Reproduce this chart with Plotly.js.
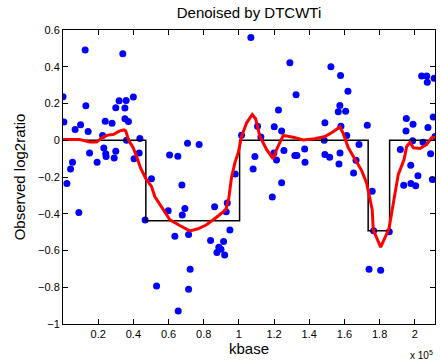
<!DOCTYPE html>
<html>
<head>
<meta charset="utf-8">
<script src="https://cdn.plot.ly/plotly-3.0.1.min.js"></script>
<style>html,body{margin:0;padding:0;background:#fff;}#chart{width:441px;height:364px;}</style>
</head>
<body>
<div id="chart"></div>
<script>
// Observed data (kbase, in units of 1e5 on the axis)
const obsX = [0.000,0.005,0.022,0.043,0.054,0.069,0.090,0.100,0.126,0.130,0.143,0.151,0.194,0.225,0.232,0.240,0.243,0.245,0.279,0.291,0.300,0.300,0.319,0.340,0.352,0.352,0.359,0.361,0.372,0.400,0.404,0.433,0.437,0.467,0.503,0.532,0.598,0.606,0.636,0.653,0.655,0.676,0.678,0.693,0.708,0.714,0.714,0.723,0.774,0.839,0.862,0.875,0.886,0.898,0.913,0.919,0.928,0.934,0.949,0.979,1.015,1.068,1.081,1.091,1.106,1.125,1.190,1.199,1.201,1.214,1.225,1.243,1.243,1.256,1.290,1.318,1.330,1.325,1.374,1.376,1.485,1.489,1.489,1.516,1.523,1.565,1.569,1.574,1.575,1.578,1.580,1.607,1.613,1.620,1.652,1.666,1.683,1.730,1.758,1.740,1.766,1.806,1.855,1.918,1.937,1.950,1.952,1.977,1.978,1.988,1.990,2.005,2.018,2.039,2.047,2.068,2.071,2.075,2.090,2.100,2.105,2.110,2.115];
const obsY = [0.237,0.100,-0.236,-0.156,-0.120,0.058,-0.393,0.084,0.491,0.188,0.047,-0.069,-0.120,0.026,-0.042,0.104,-0.074,-0.089,0.093,-0.096,-0.060,0.177,0.215,0.471,0.175,0.117,0.217,0.000,0.102,0.235,-0.100,-0.069,0.009,-0.434,-0.209,-0.793,-0.384,-0.080,-0.522,-0.087,-0.929,-0.243,-0.407,-0.371,-0.016,-0.513,-0.811,-0.702,-0.023,-0.546,-0.362,-0.611,-0.582,-0.593,-0.551,-0.625,-0.389,-0.342,-0.489,-0.183,0.027,0.559,-0.156,-0.089,0.076,0.018,-0.309,-0.069,0.073,-0.107,0.164,0.051,-0.231,-0.056,0.422,-0.083,-0.083,0.248,-0.047,-0.120,0.000,0.095,-0.078,-0.093,0.400,0.155,-0.129,0.189,-0.069,0.353,0.076,0.158,0.026,0.266,-0.178,-0.109,-0.023,0.082,-0.278,-0.702,-0.493,-0.707,-0.498,-0.051,-0.245,0.051,0.118,-0.136,-0.235,-0.003,0.087,-0.247,-0.193,0.349,-0.011,0.349,0.316,0.069,-0.074,-0.214,0.126,0.337,0.020];

// True segment levels (step function)
const stepX = [0.000,0.471,1.004,1.735,1.857,2.115];
const stepY = [0.000,-0.438,0.000,-0.493,0.000,0.000];

// Denoised estimate (DTCWTi)
const denX = [0.000,0.096,0.152,0.191,0.228,0.255,0.285,0.323,0.346,0.357,0.374,0.399,0.418,0.441,0.471,0.503,0.522,0.560,0.608,0.664,0.721,0.768,0.816,0.873,0.909,0.926,0.943,0.958,0.977,0.996,1.015,1.044,1.076,1.095,1.119,1.158,1.195,1.214,1.252,1.309,1.366,1.432,1.489,1.536,1.575,1.593,1.622,1.660,1.698,1.726,1.745,1.758,1.764,1.806,1.853,1.878,1.906,1.939,1.954,1.973,1.992,2.030,2.068,2.095,2.111,2.121];
const denY = [0.004,0.004,-0.010,-0.010,0.017,0.028,0.031,0.051,0.056,0.050,-0.002,-0.041,-0.087,-0.151,-0.209,-0.251,-0.306,-0.360,-0.433,-0.464,-0.493,-0.482,-0.460,-0.419,-0.394,-0.378,-0.313,-0.203,-0.123,-0.069,0.020,0.095,0.140,0.117,0.022,-0.051,-0.101,-0.051,0.026,0.016,0.001,0.008,0.020,0.046,0.073,0.037,-0.041,-0.100,-0.165,-0.232,-0.313,-0.378,-0.487,-0.582,-0.483,-0.351,-0.187,-0.105,-0.034,-0.011,-0.041,-0.045,-0.023,0.013,0.017,0.012];

const xTickVals = [0.2,0.4,0.6,0.8,1,1.2,1.4,1.6,1.8,2];
const xTickText = ['0.2','0.4','0.6','0.8','1','1.2','1.4','1.6','1.8','2'];
const SCALE = 1e5;

const font = 'Liberation Sans, Arial, Helvetica, sans-serif';
const traces = [
  {x: obsX.map(v => v*SCALE), y: obsY, type: 'scatter', mode: 'markers',
   marker: {color: '#0000ff', size: 7}, hoverinfo: 'skip'},
  {x: stepX.map(v => v*SCALE), y: stepY, type: 'scatter', mode: 'lines',
   line: {color: '#000000', width: 1.5, shape: 'hv'}, hoverinfo: 'skip'},
  {x: denX.map(v => v*SCALE), y: denY, type: 'scatter', mode: 'lines',
   line: {color: '#ff0000', width: 3}, hoverinfo: 'skip'}
];
const layout = {
  width: 441, height: 364,
  margin: {l: 63, r: 6, t: 30, b: 40},
  paper_bgcolor: '#ffffff', plot_bgcolor: '#ffffff',
  showlegend: false,
  font: {family: font, color: '#000', size: 11},
  title: {text: 'Denoised by DTCWTi', font: {size: 15, family: font, color: '#000'},
          x: 0.5, xref: 'paper', y: 0.964, yanchor: 'middle'},
  xaxis: {range: [0, 2.115*SCALE], tickvals: xTickVals.map(v => v*SCALE), ticktext: xTickText,
          ticks: 'inside', ticklen: 5, tickcolor: '#000', mirror: 'ticks',
          showline: true, linecolor: '#000', linewidth: 1, showgrid: false, zeroline: false,
          tickfont: {size: 11}, title: {text: 'kbase', font: {size: 15}, standoff: 4}},
  yaxis: {range: [-1, 0.6], dtick: 0.2, tick0: 0,
          ticks: 'inside', ticklen: 5, tickcolor: '#000', mirror: 'ticks',
          showline: true, linecolor: '#000', linewidth: 1, showgrid: false, zeroline: false,
          tickfont: {size: 11}, title: {text: 'Observed log2ratio', font: {size: 15}, standoff: 8}},
  annotations: [{text: 'x 10<sup>5</sup>', xref: 'paper', yref: 'paper', x: 1.0, y: -0.105,
                 xanchor: 'right', yanchor: 'middle', showarrow: false, font: {size: 10}}]
};
Plotly.newPlot('chart', traces, layout, {displayModeBar: false, staticPlot: true});
</script>
</body>
</html>
